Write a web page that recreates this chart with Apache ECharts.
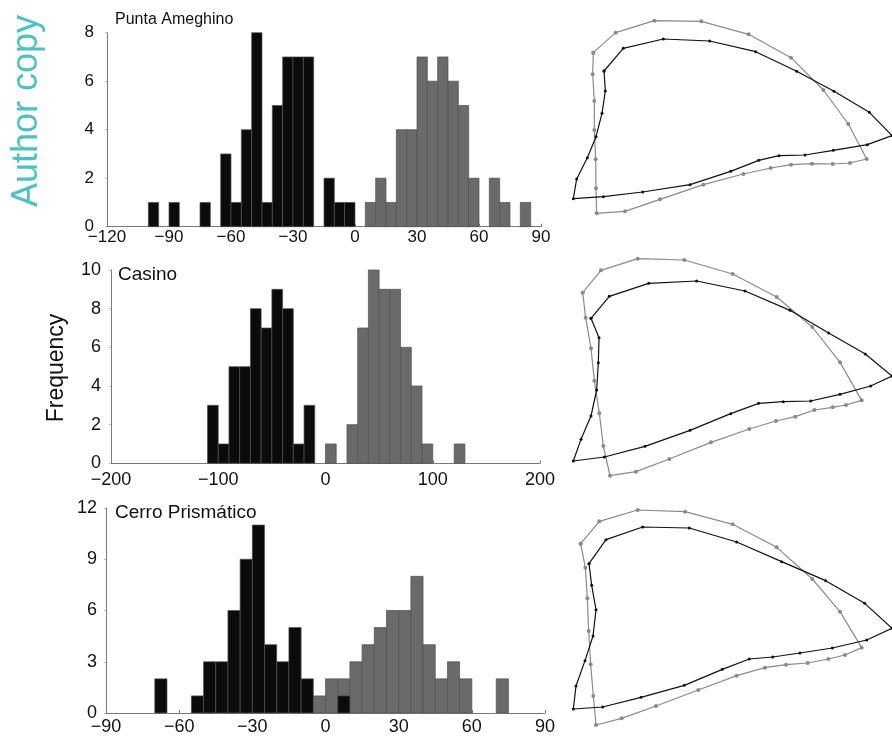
<!DOCTYPE html>
<html>
<head>
<meta charset="utf-8">
<script src="https://cdn.jsdelivr.net/npm/echarts@6/dist/echarts.min.js"></script>
<style>html,body{margin:0;padding:0;background:#fff}#c{width:892px;height:736px}</style>
</head>
<body>
<div id="c"></div>
<script>
// ---------- DATA ----------
// Panel titles
const titles = ['Punta Ameghino', 'Casino', 'Cerro Prismático'];

// Punta Ameghino (bin width 5): lower bin edges and counts
const paBinWidth = 5;
const paBlackEdges  = [-100, -90, -75, -65, -60, -55, -50, -45, -40, -35, -30, -25, -15, -10, -5];
const paBlackCounts = [1, 1, 1, 3, 1, 4, 8, 1, 5, 7, 7, 7, 2, 1, 1];
const paGrayEdges   = [5, 10, 15, 20, 25, 30, 35, 40, 45, 50, 55, 65, 70, 80];
const paGrayCounts  = [1, 2, 1, 4, 4, 7, 6, 7, 6, 5, 2, 2, 1, 1];
const paXTicks = [-120, 90, 30];   // min, max, interval
const paYTicks = [0, 8, 2];

// Casino (bin width 10)
const caBinWidth = 10;
const caBlackEdges  = [-110, -100, -90, -80, -70, -60, -50, -40, -30, -20];
const caBlackCounts = [3, 1, 5, 5, 8, 7, 9, 8, 1, 3];
const caGrayEdges   = [0, 20, 30, 40, 50, 60, 70, 80, 90, 120];
const caGrayCounts  = [1, 2, 7, 10, 9, 9, 6, 4, 1, 1];
const caXTicks = [-200, 200, 100];
const caYTicks = [0, 10, 2];

// Cerro Prismático (bin width 5)
const cpBinWidth = 5;
const cpBlackEdges  = [-70, -55, -50, -45, -40, -35, -30, -25, -20, -15, -10, 5];
const cpBlackCounts = [2, 1, 3, 3, 6, 9, 11, 4, 3, 5, 2, 1];
const cpGrayEdges   = [-5, 0, 5, 10, 15, 20, 25, 30, 35, 40, 45, 50, 55, 70];
const cpGrayCounts  = [1, 2, 2, 3, 4, 5, 6, 6, 8, 4, 2, 3, 2, 2];
const cpXTicks = [-90, 90, 30];
const cpYTicks = [0, 12, 3];

// Outline shapes (landmark coordinates, arbitrary units, y downward)
const shape1Gray = [[100,128],[167,68],[283,32],[424,34],[566,73],[693,143],[790,240],[865,342],[920,447],[870,459],[818,462],[756,461],[693,464],[632,474],[550,492],[430,524],[300,568],[195,604],[110,610],[108,535],[107,448],[103,360],[103,273],[98,193],[100,128]];
const shape1Black = [[132,183],[190,115],[310,87],[449,93],[587,125],[710,184],[822,244],[928,307],[996,377],[922,404],[820,421],[735,435],[657,437],[596,451],[512,484],[390,524],[248,546],[130,560],[40,566],[50,507],[82,443],[108,380],[126,310],[136,243],[132,183]];
const shape2Gray = [[68,113],[123,46],[233,11],[373,15],[518,57],[650,126],[757,216],[840,322],[905,436],[858,450],[818,457],[763,465],[706,485],[648,498],[568,522],[453,562],[328,612],[228,650],[150,662],[130,573],[118,475],[103,377],[93,280],[77,188],[68,113]];
const shape2Black = [[93,190],[148,124],[266,85],[410,78],[555,108],[690,166],[806,234],[916,297],[996,363],[932,393],[840,418],[752,438],[670,440],[596,445],[512,476],[390,526],[255,574],[133,606],[40,618],[63,553],[93,483],[110,405],[115,323],[117,248],[93,190]];
const shape3Gray = [[62,116],[118,49],[233,15],[375,20],[518,58],[650,127],[757,222],[840,320],[905,428],[855,450],[805,462],[743,474],[678,479],[615,488],[530,512],[415,555],[288,603],[185,640],[108,660],[100,573],[92,478],[86,378],[82,280],[76,188],[62,116]];
const shape3Black = [[87,176],[138,104],[248,66],[388,69],[530,111],[665,170],[797,227],[914,295],[996,370],[920,405],[817,429],[720,444],[638,456],[568,462],[487,493],[373,541],[243,577],[128,606],[40,612],[48,543],[75,467],[99,393],[108,314],[95,241],[87,176]];

// ---------- BUILD ----------
const FONT = '"Liberation Sans", Arial, Helvetica, sans-serif';
const BLACK = '#0b0b0b', GRAY = '#6a6a6a', AXIS = '#7a7a7a';
const fmt = v => (v < 0 ? '\u2212' + Math.abs(v) : String(v));

const histPanels = [
  {bw: paBinWidth, be: paBlackEdges, bc: paBlackCounts, ge: paGrayEdges, gc: paGrayCounts, xt: paXTicks, yt: paYTicks,
   grid: {left: 107, top: 32.7, width: 434, height: 194}, fs: 17, xm: 2, ym: 13},
  {bw: caBinWidth, be: caBlackEdges, bc: caBlackCounts, ge: caGrayEdges, gc: caGrayCounts, xt: caXTicks, yt: caYTicks,
   grid: {left: 111, top: 270, width: 429, height: 193.3}, fs: 18, xm: 8, ym: 10},
  {bw: cpBinWidth, be: cpBlackEdges, bc: cpBlackCounts, ge: cpGrayEdges, gc: cpGrayCounts, xt: cpXTicks, yt: cpYTicks,
   grid: {left: 106, top: 508, width: 439, height: 206}, fs: 18, xm: 5, ym: 9}
];
const shapePanels = [
  {g: shape1Gray, b: shape1Black, grid: {left: 560, top: 10, width: 332, height: 220}, ymax: 660},
  {g: shape2Gray, b: shape2Black, grid: {left: 560, top: 255, width: 332, height: 230}, ymax: 690},
  {g: shape3Gray, b: shape3Black, grid: {left: 560, top: 505, width: 332, height: 231}, ymax: 693}
];

const grids = [], xAxes = [], yAxes = [], series = [];

function histSeries(edges, counts, bw, color, idx) {
  return {
    type: 'custom', xAxisIndex: idx, yAxisIndex: idx, clip: false,
    data: edges.map((e, i) => [e, e + bw, counts[i]]),
    encode: {x: [0, 1], y: 2},
    renderItem: (params, api) => {
      const p0 = api.coord([api.value(0), api.value(2)]);
      const p1 = api.coord([api.value(1), 0]);
      return {type: 'rect', shape: {x: p0[0], y: p0[1], width: p1[0] - p0[0], height: p1[1] - p0[1]},
              style: {fill: color, stroke: '#505050', lineWidth: 0.7}};
    }
  };
}

histPanels.forEach((p, i) => {
  grids.push(p.grid);
  xAxes.push({type: 'value', gridIndex: i, min: p.xt[0], max: p.xt[1], interval: p.xt[2],
    axisLine: {show: true, onZero: false, lineStyle: {color: AXIS, width: 1}},
    axisTick: {show: true, inside: true, length: 3, lineStyle: {color: AXIS}},
    splitLine: {show: false},
    axisLabel: {formatter: fmt, fontSize: p.fs, fontFamily: FONT, color: '#111', margin: p.xm}});
  yAxes.push({type: 'value', gridIndex: i, min: p.yt[0], max: p.yt[1], interval: p.yt[2],
    axisLine: {show: true, onZero: false, lineStyle: {color: AXIS, width: 1}},
    axisTick: {show: true, inside: false, length: 2, lineStyle: {color: '#bbb'}},
    splitLine: {show: false},
    axisLabel: {fontSize: p.fs, fontFamily: FONT, color: '#111', margin: p.ym}});
  series.push(histSeries(p.ge, p.gc, p.bw, GRAY, i));
  series.push(histSeries(p.be, p.bc, p.bw, BLACK, i));
});

shapePanels.forEach((s, j) => {
  const i = 3 + j;
  grids.push(s.grid);
  xAxes.push({type: 'value', gridIndex: i, min: 0, max: 996, show: false});
  yAxes.push({type: 'value', gridIndex: i, min: 0, max: s.ymax, inverse: true, show: false});
  series.push({type: 'line', xAxisIndex: i, yAxisIndex: i, data: s.g, clip: false,
    symbol: 'circle', symbolSize: 4, showSymbol: true,
    lineStyle: {color: '#8a8a8a', width: 1.2}, itemStyle: {color: '#8a8a8a'}, animation: false});
  series.push({type: 'line', xAxisIndex: i, yAxisIndex: i, data: s.b, clip: false,
    symbol: 'circle', symbolSize: 3, showSymbol: true,
    lineStyle: {color: '#111', width: 1.2}, itemStyle: {color: '#111'}, animation: false});
});

const titleTexts = [
  {x: 115, y: 21, fs: 16},
  {x: 118, y: 276, fs: 19},
  {x: 115, y: 514, fs: 19}
];

const graphic = titleTexts.map((t, i) => ({
  type: 'text', left: t.x, top: t.y - t.fs / 2 - 1,
  style: {text: titles[i], font: t.fs + 'px ' + FONT, fill: '#111'}
}));
graphic.push({type: 'text', x: 57, y: 368, rotation: Math.PI / 2,
  style: {text: 'Frequency', font: '23px ' + FONT, fill: '#111', align: 'center', verticalAlign: 'middle'}});
graphic.push({type: 'text', x: 27, y: 111, rotation: Math.PI / 2,
  style: {text: 'Author copy', font: '36px ' + FONT, fill: '#4cc3c1', align: 'center', verticalAlign: 'middle'}});

const chart = echarts.init(document.getElementById('c'), null, {renderer: 'canvas'});
chart.setOption({
  animation: false,
  backgroundColor: '#fff',
  grid: grids, xAxis: xAxes, yAxis: yAxes, series: series, graphic: graphic
});
</script>
</body>
</html>
